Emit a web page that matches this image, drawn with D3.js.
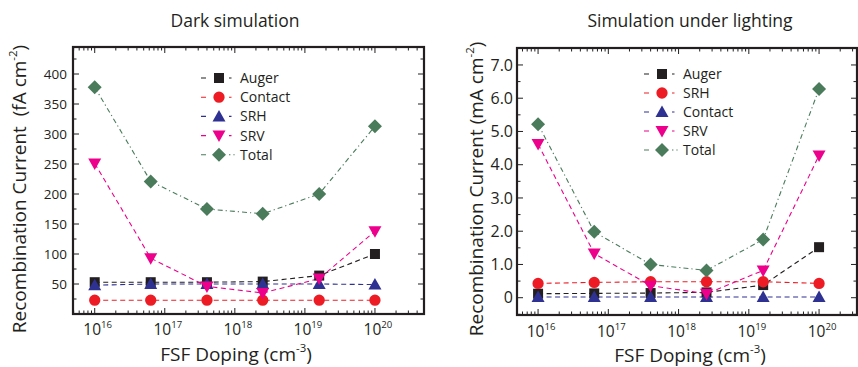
<!DOCTYPE html>
<html>
<head>
<meta charset="utf-8">
<script src="https://cdn.jsdelivr.net/npm/d3@7"></script>
<style>
  html, body { margin: 0; padding: 0; background: #fff; }
  svg { display: block; font-family: "Open Sans", "Noto Sans", sans-serif; }
</style>
</head>
<body>
<svg id="chart" width="858" height="367"></svg>
<script>
// ---- Data ----
const dopingLevels = [1e16, 6.3e16, 4e17, 2.5e18, 1.6e19, 1e20];

// Dark simulation (fA cm^-2)
const darkAuger   = [53, 53, 53, 54, 64, 100];
const darkContact = [23, 23, 23, 23, 23, 23];
const darkSRH     = [48, 50, 50, 50, 50, 49];
const darkSRV     = [251, 93, 46, 35, 59, 138];
const darkTotal   = [378, 221, 175, 167, 200, 313];

// Simulation under lighting (mA cm^-2)
const lightAuger   = [0.12, 0.13, 0.14, 0.16, 0.38, 1.52];
const lightSRH     = [0.43, 0.46, 0.48, 0.48, 0.48, 0.43];
const lightContact = [0.02, 0.02, 0.02, 0.02, 0.02, 0.02];
const lightSRV     = [4.62, 1.33, 0.36, 0.12, 0.82, 4.28];
const lightTotal   = [5.22, 1.98, 1.00, 0.82, 1.75, 6.28];

const darkYTicks  = [50, 100, 150, 200, 250, 300, 350, 400];
const lightYTicks = [0, 1, 2, 3, 4, 5, 6, 7];
const xTickExponents = [16, 17, 18, 19, 20];

const colors = {
  black: "#231f20", red: "#ed1c24", blue: "#2e3192",
  magenta: "#ec008c", green: "#4a7c5c"
};

const svg = d3.select("#chart");

function drawPanel(cfg) {
  const g = svg.append("g");
  const x = d3.scaleLog().domain(cfg.xDomain).range([cfg.x0, cfg.x1]);
  const y = d3.scaleLinear().domain(cfg.yDomain).range([cfg.y1, cfg.y0]);

  // title
  g.append("text").attr("x", cfg.titleX).attr("y", 27)
    .attr("text-anchor", "middle").attr("font-size", cfg.titleSize)
    .attr("fill", "#231f20").text(cfg.title);

  // y ticks (major + minor), inside, both sides
  const ys = cfg.yMinorStep;
  const minorY = d3.range(Math.ceil(cfg.yDomain[0] / ys) * ys, cfg.yDomain[1], ys);
  const tg = g.append("g").attr("stroke", "#231f20").attr("stroke-width", 1);
  minorY.forEach(v => {
    const major = cfg.yTicks.some(t => Math.abs(t - v) < 1e-9);
    const len = major ? 6 : 3.5;
    tg.append("line").attr("x1", cfg.x0).attr("x2", cfg.x0 + len).attr("y1", y(v)).attr("y2", y(v));
    tg.append("line").attr("x1", cfg.x1).attr("x2", cfg.x1 - len).attr("y1", y(v)).attr("y2", y(v));
  });
  // x ticks (log, major + minor), inside, top and bottom
  const lo = Math.floor(Math.log10(cfg.xDomain[0])), hi = Math.ceil(Math.log10(cfg.xDomain[1]));
  for (let e = lo; e <= hi; e++) {
    for (let m = 1; m <= 9; m++) {
      const v = m * Math.pow(10, e);
      if (v < cfg.xDomain[0] || v > cfg.xDomain[1]) continue;
      const len = m === 1 ? 6 : 3.5;
      tg.append("line").attr("x1", x(v)).attr("x2", x(v)).attr("y1", cfg.y1).attr("y2", cfg.y1 - len);
      tg.append("line").attr("x1", x(v)).attr("x2", x(v)).attr("y1", cfg.y0).attr("y2", cfg.y0 + len);
    }
  }

  // y tick labels
  g.append("g").selectAll("text").data(cfg.yTicks).join("text")
    .attr("x", cfg.x0 - cfg.yLabelGap).attr("y", d => y(d))
    .attr("dy", "0.36em").attr("text-anchor", "end")
    .attr("font-size", cfg.yTickSize).attr("fill", "#231f20")
    .text(cfg.yFormat);

  // x tick labels 10^n
  const xl = g.append("g").selectAll("text").data(xTickExponents).join("text")
    .attr("x", d => x(Math.pow(10, d)) + 3).attr("y", cfg.xTickY)
    .attr("text-anchor", "middle").attr("font-size", cfg.xTickSize).attr("fill", "#231f20");
  xl.append("tspan").text("10");
  xl.append("tspan").attr("font-size", cfg.xTickSize * 0.62).attr("dy", -cfg.xTickSize * 0.42)
    .text(d => d);

  // axis titles
  const xt = g.append("text").attr("x", cfg.xTitleX).attr("y", cfg.xTitleY)
    .attr("text-anchor", "middle").attr("font-size", cfg.axisTitleSize).attr("fill", "#231f20");
  xt.append("tspan").text("FSF Doping (cm");
  xt.append("tspan").attr("font-size", cfg.axisTitleSize * 0.6).attr("dy", -cfg.axisTitleSize * 0.45).text("-3");
  xt.append("tspan").attr("dy", cfg.axisTitleSize * 0.45).text(")");

  const yt = g.append("text")
    .attr("transform", `translate(${cfg.yTitleX},${cfg.yTitleY}) rotate(-90)`)
    .attr("text-anchor", "middle").attr("font-size", cfg.axisTitleSize).attr("fill", "#231f20")
    .attr("xml:space", "preserve");
  yt.append("tspan").text(cfg.yTitle);
  yt.append("tspan").attr("font-size", cfg.axisTitleSize * 0.6).attr("dy", -cfg.axisTitleSize * 0.45).text("-2");
  yt.append("tspan").attr("dy", cfg.axisTitleSize * 0.45).text(")");

  // series lines
  const line = d3.line().x((d, i) => x(dopingLevels[i])).y(d => y(d));
  const sg = g.append("g");
  cfg.series.forEach(s => {
    sg.append("path").datum(s.values).attr("d", line)
      .attr("fill", "none").attr("stroke", s.color).attr("stroke-width", 1.1)
      .attr("stroke-dasharray", s.dash);
  });
  // markers
  cfg.series.forEach(s => {
    sg.append("g").selectAll("path").data(s.values).join("path")
      .attr("transform", (d, i) => `translate(${x(dopingLevels[i])},${y(d)})`)
      .attr("d", markerPath(s.shape)).attr("fill", s.color);
  });

  // legend
  const lg = g.append("g");
  cfg.series.forEach((s, i) => {
    const ly = cfg.legendY + i * cfg.legendStep;
    const mx = cfg.legendX;
    lg.append("line").attr("x1", mx - 18).attr("x2", mx + 16).attr("y1", ly).attr("y2", ly)
      .attr("stroke", s.color).attr("stroke-width", 1.1).attr("stroke-dasharray", s.dash);
    lg.append("rect").attr("x", mx - 10).attr("y", ly - 7).attr("width", 20).attr("height", 14).attr("fill", "#fff");
    lg.append("path").attr("transform", `translate(${mx},${ly})`).attr("d", markerPath(s.shape)).attr("fill", s.color);
    lg.append("text").attr("x", mx + 21).attr("y", ly).attr("dy", "0.36em")
      .attr("font-size", cfg.legendSize).attr("fill", "#231f20").text(s.name);
  });

  // frame
  g.append("rect").attr("x", cfg.x0).attr("y", cfg.y0)
    .attr("width", cfg.x1 - cfg.x0).attr("height", cfg.y1 - cfg.y0)
    .attr("fill", "none").attr("stroke", "#231f20").attr("stroke-width", 2.2);
}

function markerPath(shape) {
  switch (shape) {
    case "square": return "M-5,-5H5V5H-5Z";
    case "circle": return d3.symbol(d3.symbolCircle, 100)();
    case "up": return "M0,-6.5L6.5,5L-6.5,5Z";
    case "down": return "M0,6.5L6.5,-5L-6.5,-5Z";
    case "diamond": return "M0,-7L7,0L0,7L-7,0Z";
  }
}

const dashA = "5,3.5";
const dashDot = "5,3,1.2,3";

drawPanel({
  title: "Dark simulation", titleX: 235, titleSize: 17.5,
  x0: 73, x1: 424, y0: 47, y1: 314,
  xDomain: [Math.pow(10, 15.69), Math.pow(10, 20.7)], yDomain: [0, 445],
  yTicks: darkYTicks, yMinorStep: 25, yFormat: d => d, yLabelGap: 6, yTickSize: 13.5,
  xTickY: 335, xTickSize: 15.5,
  xTitleX: 236, xTitleY: 361, axisTitleSize: 19,
  yTitleX: 26, yTitleY: 189, yTitle: "Recombination Current  (fA cm",
  legendX: 219, legendY: 78, legendStep: 19.2, legendSize: 14,
  series: [
    { name: "Auger",   values: darkAuger,   color: colors.black,   shape: "square",  dash: dashA },
    { name: "Contact", values: darkContact, color: colors.red,     shape: "circle",  dash: dashA },
    { name: "SRH",     values: darkSRH,     color: colors.blue,    shape: "up",      dash: dashA },
    { name: "SRV",     values: darkSRV,     color: colors.magenta, shape: "down",    dash: dashA },
    { name: "Total",   values: darkTotal,   color: colors.green,   shape: "diamond", dash: dashDot }
  ]
});

drawPanel({
  title: "Simulation under lighting", titleX: 690, titleSize: 17.5,
  x0: 517, x1: 857, y0: 48, y1: 315,
  xDomain: [Math.pow(10, 15.7), Math.pow(10, 20.54)], yDomain: [-0.52, 7.51],
  yTicks: lightYTicks, yMinorStep: 0.5, yFormat: d => d === 0 ? "0" : d.toFixed(1), yLabelGap: 4, yTickSize: 16,
  xTickY: 337, xTickSize: 15.5,
  xTitleX: 690, xTitleY: 362, axisTitleSize: 19,
  yTitleX: 483, yTitleY: 189, yTitle: "Recombination Current (mA cm",
  legendX: 662, legendY: 74, legendStep: 19, legendSize: 14,
  series: [
    { name: "Auger",   values: lightAuger,   color: colors.black,   shape: "square",  dash: dashA },
    { name: "SRH",     values: lightSRH,     color: colors.red,     shape: "circle",  dash: dashA },
    { name: "Contact", values: lightContact, color: colors.blue,    shape: "up",      dash: dashA },
    { name: "SRV",     values: lightSRV,     color: colors.magenta, shape: "down",    dash: dashA },
    { name: "Total",   values: lightTotal,   color: colors.green,   shape: "diamond", dash: dashDot }
  ]
});
</script>
</body>
</html>
